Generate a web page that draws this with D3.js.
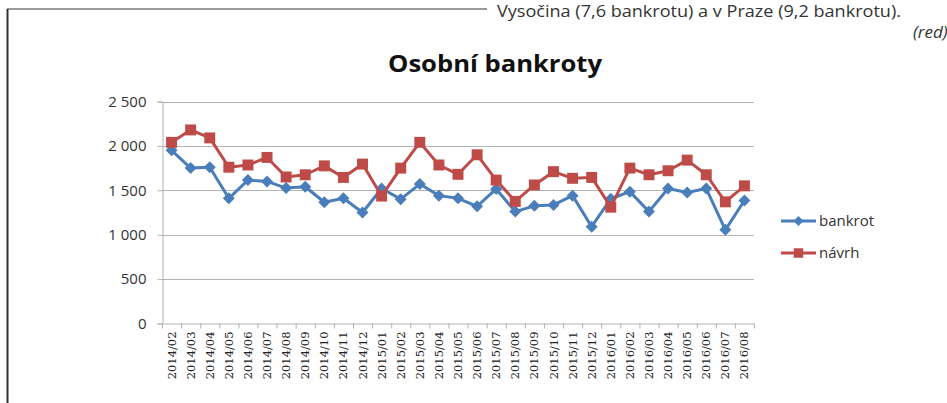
<!DOCTYPE html>
<html>
<head>
<meta charset="utf-8">
<script src="https://cdn.jsdelivr.net/npm/d3@7"></script>
<style>
  body { margin: 0; background: #fff; }
  svg { display: block; }
</style>
</head>
<body>
<svg id="chart" width="947" height="403"></svg>
<script>
// data
const months = ["2014/02","2014/03","2014/04","2014/05","2014/06","2014/07","2014/08","2014/09","2014/10","2014/11","2014/12",
  "2015/01","2015/02","2015/03","2015/04","2015/05","2015/06","2015/07","2015/08","2015/09","2015/10","2015/11","2015/12",
  "2016/01","2016/02","2016/03","2016/04","2016/05","2016/06","2016/07","2016/08"];
const bankrot = [1950,1750,1760,1410,1615,1600,1525,1540,1365,1410,1250,
  1520,1400,1570,1440,1410,1320,1515,1260,1325,1335,1440,1090,
  1405,1485,1260,1520,1475,1520,1055,1385];
const navrh = [2040,2180,2090,1760,1785,1870,1650,1675,1775,1645,1795,
  1435,1750,2040,1785,1680,1900,1615,1375,1560,1710,1635,1645,
  1310,1750,1675,1720,1840,1675,1370,1550];
const yTicks = [0,500,1000,1500,2000,2500];
const series = [
  {name: "bankrot", values: bankrot, color: "#4a7ebb", marker: "diamond"},
  {name: "návrh", values: navrh, color: "#be4b48", marker: "square"}
];

const svg = d3.select("#chart");
const fmt = d => d3.format(",")(d).replace(/,/g, " ");

// page frame around the clipped chart
svg.append("line").attr("x1", 7).attr("x2", 487).attr("y1", 9).attr("y2", 9)
  .style("stroke", "#777").style("stroke-width", 1.5);
svg.append("line").attr("x1", 7.5).attr("x2", 7.5).attr("y1", 9).attr("y2", 403)
  .style("stroke", "#333").style("stroke-width", 2);
svg.append("text").attr("x", 497).attr("y", 17)
  .attr("textLength", 404).attr("lengthAdjust", "spacingAndGlyphs")
  .style("font-family", "Open Sans").style("font-size", "16px").style("fill", "#333")
  .text("Vysočina (7,6 bankrotu) a v Praze (9,2 bankrotu).");
svg.append("text").attr("x", 913).attr("y", 38)
  .style("font-family", "Open Sans").style("font-style", "italic")
  .style("font-size", "17px").style("fill", "#333")
  .text("(red)");

// scales
const x = d3.scaleBand().domain(months).range([162, 754]).padding(0);
const y = d3.scaleLinear().domain([0, 2500]).range([323.5, 101.5]);

// title
svg.append("text").attr("x", 495).attr("y", 72).attr("text-anchor", "middle")
  .attr("textLength", 214).attr("lengthAdjust", "spacingAndGlyphs")
  .style("font-family", "Open Sans").style("font-weight", "bold")
  .style("font-size", "24px").style("fill", "#111")
  .text("Osobní bankroty");

// gridlines
svg.append("g").selectAll("line")
  .data(yTicks.filter(d => d > 0)).enter()
  .append("line")
  .attr("x1", 162).attr("x2", 754)
  .attr("y1", d => Math.round(y(d)) + 0.5).attr("y2", d => Math.round(y(d)) + 0.5)
  .style("stroke", "#b3b3b3").style("stroke-width", 1);

// axis_y
const axisY = svg.append("g").attr("transform", "translate(162.5,0)")
  .call(d3.axisLeft(y).tickValues(yTicks).tickFormat(fmt).tickSize(5).tickPadding(11));
axisY.select(".domain").style("stroke", "#b3b3b3");
axisY.selectAll(".tick line").style("stroke", "#b3b3b3");
axisY.selectAll(".tick text")
  .style("font-family", "Open Sans").style("font-size", "15px").style("fill", "#333");

// axis_x
const axisX = svg.append("g").attr("transform", "translate(0,323.5)")
  .call(d3.axisBottom(x).tickSize(0).tickPadding(8));
axisX.select(".domain").style("stroke", "#b3b3b3");
axisX.selectAll(".tick text")
  .attr("transform", "rotate(-90)")
  .attr("x", -8).attr("y", 0).attr("dy", "0.35em")
  .style("text-anchor", "end")
  .style("font-family", "DejaVu Serif").style("font-size", "11.5px").style("fill", "#222");
// tick marks between categories
axisX.selectAll("line.sep")
  .data(months.concat(["end"])).enter()
  .append("line").attr("class", "sep")
  .attr("x1", (d, i) => 162 + i * x.step() + 0.5)
  .attr("x2", (d, i) => 162 + i * x.step() + 0.5)
  .attr("y1", 0).attr("y2", 5)
  .style("stroke", "#b3b3b3");

// series lines and markers
const line = d3.line()
  .x((d, i) => x(months[i]) + x.bandwidth() / 2)
  .y(d => y(d));

const markerPath = m => m === "diamond"
  ? d3.symbol().type(d3.symbolSquare).size(72)()
  : d3.symbol().type(d3.symbolSquare).size(120)();

series.forEach(s => {
  const g = svg.append("g");
  g.append("path").datum(s.values)
    .attr("d", line)
    .style("fill", "none").style("stroke", s.color)
    .style("stroke-width", 3).style("stroke-linejoin", "round");
  g.selectAll("path.m")
    .data(s.values).enter()
    .append("path").attr("class", "m")
    .attr("d", markerPath(s.marker))
    .attr("transform", (d, i) => `translate(${x(months[i]) + x.bandwidth() / 2},${y(d)})` +
      (s.marker === "diamond" ? " rotate(45)" : ""))
    .style("fill", s.color);
});

// legend
const legend = svg.append("g").selectAll("g")
  .data(series).enter()
  .append("g")
  .attr("transform", (d, i) => `translate(781,${221 + i * 32})`);
legend.append("line").attr("x1", 0).attr("x2", 35).attr("y1", 0).attr("y2", 0)
  .style("stroke", d => d.color).style("stroke-width", 3);
legend.append("path")
  .attr("d", d => d.marker === "diamond"
    ? d3.symbol().type(d3.symbolSquare).size(50)()
    : d3.symbol().type(d3.symbolSquare).size(90)())
  .attr("transform", d => d.marker === "diamond" ? "translate(17.5,0) rotate(45)" : "translate(17.5,0)")
  .style("fill", d => d.color);
legend.append("text").attr("x", 38).attr("y", 0).attr("dy", "0.35em")
  .style("font-family", "Open Sans").style("font-size", "15px").style("fill", "#333")
  .text(d => d.name);
</script>
</body>
</html>
